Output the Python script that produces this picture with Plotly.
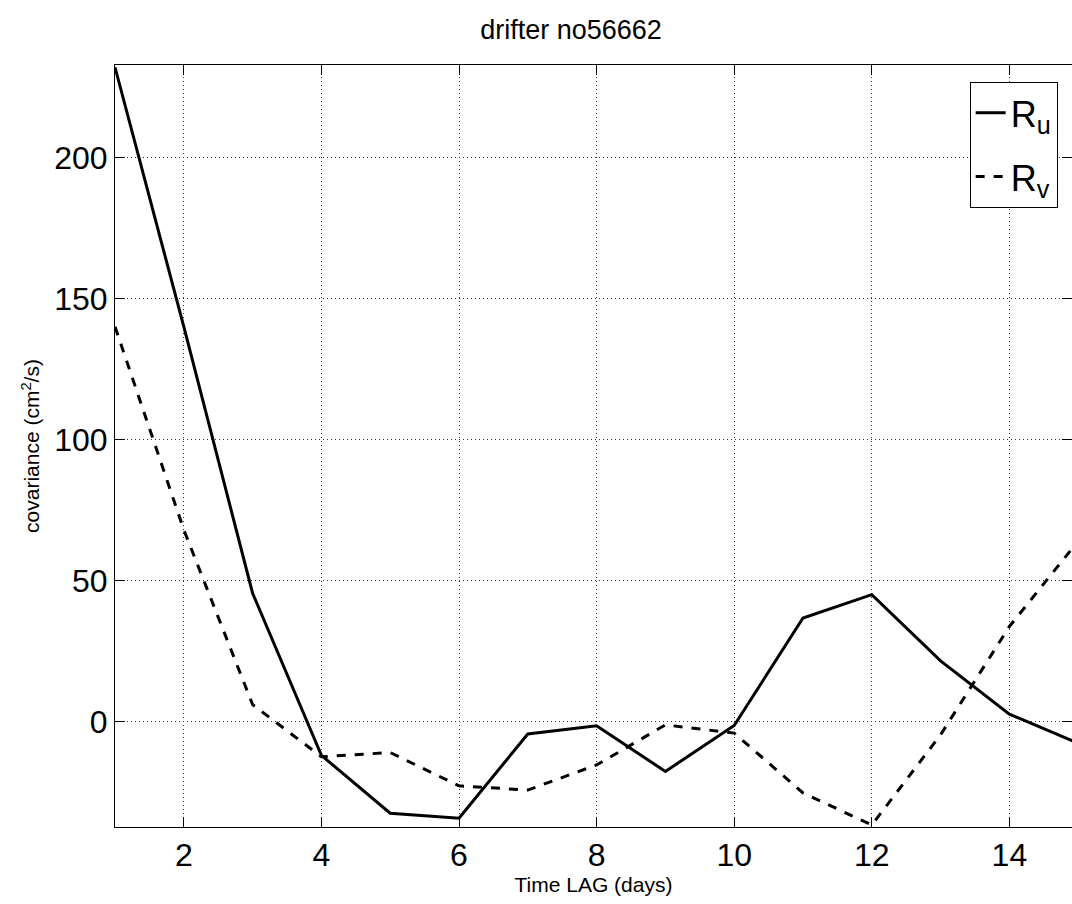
import plotly.graph_objects as go

lag_days = [1, 2, 3, 4, 5, 6, 7, 8, 9, 10, 11, 12, 13, 14, 15]
r_u = [232, 140, 45.5, -12, -32.5, -34.3, -4.4, -1.5, -17.7, -1.4, 36.7, 45, 21.5, 2.6, -7.7]
r_v = [140, 68, 6, -12.5, -11, -22.8, -24.3, -15.4, -1.2, -4.1, -25.3, -36.7, -4.7, 33.7, 64]
x_ticks = [2, 4, 6, 8, 10, 12, 14]
y_ticks = [0, 50, 100, 150, 200]

fig = go.Figure()
fig.add_trace(go.Scatter(x=lag_days, y=r_u, mode="lines", name="R<sub>u</sub>",
                         legendgroup="u", line=dict(color="black", width=3)))
fig.add_trace(go.Scatter(x=lag_days, y=r_v, mode="lines", name="R<sub>v</sub>",
                         legendgroup="v", line=dict(color="black", width=3, dash="dash")))

font_family = "Arial, Liberation Sans, Helvetica, sans-serif"
fig.update_layout(
    width=1072, height=904,
    margin=dict(l=115, r=0, t=65, b=77),
    paper_bgcolor="white", plot_bgcolor="white",
    font=dict(family=font_family, color="black"),
    title=dict(text="drifter no56662", x=571 / 1072, xanchor="center", xref="container",
               y=1 - 30 / 904, yanchor="middle", yref="container",
               font=dict(size=27, color="black")),
    showlegend=True,
    legend=dict(x=0.985, y=0.978, xanchor="right", yanchor="top",
                bordercolor="black", borderwidth=1, bgcolor="white",
                font=dict(size=36, color="black"), traceorder="grouped",
                tracegroupgap=14, itemwidth=30),
    xaxis=dict(range=[1, 14.91], tickvals=x_ticks, ticks="inside", ticklen=10,
               tickcolor="black", showline=True, linecolor="black", linewidth=1,
               mirror="ticks", showgrid=True, gridcolor="#333", griddash="1px,3px",
               gridwidth=1, zeroline=False, tickfont=dict(size=32),
               title=dict(text="Time LAG (days)", font=dict(size=21), standoff=2)),
    yaxis=dict(range=[-37.4, 232.8], tickvals=y_ticks, ticks="inside", ticklen=10,
               tickcolor="black", showline=True, linecolor="black", linewidth=1,
               mirror="ticks", showgrid=True, gridcolor="#333", griddash="1px,3px",
               gridwidth=1, zeroline=False, tickfont=dict(size=32),
               title=dict(text="covariance (cm<sup>2</sup>/s)", font=dict(size=21), standoff=8)),
)

fig.write_html("out.html", config={"displayModeBar": False},
               post_script="document.body.style.margin='0';document.body.style.overflow='hidden';")
